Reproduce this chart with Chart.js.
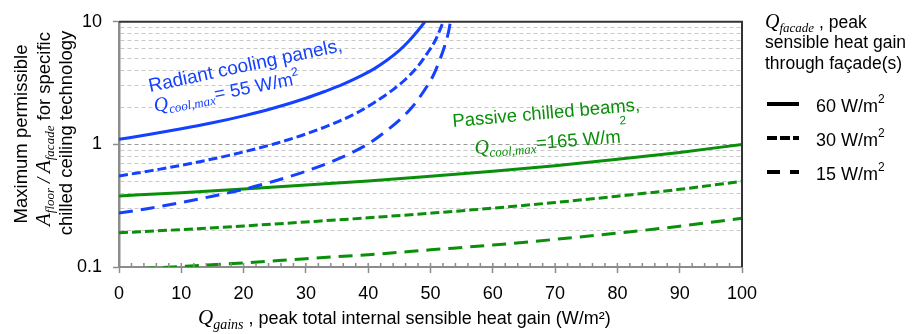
<!DOCTYPE html>
<html lang="en">
<head>
  <meta charset="UTF-8" />
  <title>Chilled ceiling area ratio</title>
  <script src="https://cdn.jsdelivr.net/npm/chart.js"></script>
  <style>
    body { margin: 0; background: #fff; }
    #wrap { width: 919px; height: 334px; }
  </style>
</head>
<body>
  <div id="wrap"><canvas id="chart" width="919" height="334"></canvas></div>

  <script>
    // values
    // passive chilled beams, Qcool,max = 165 W/m2
    const gains = [0, 10, 20, 30, 40, 50, 60, 70, 80, 90, 100];
    const beams60 = [0.38, 0.404, 0.433, 0.466, 0.504, 0.55, 0.604, 0.67, 0.755, 0.86, 1.0];
    const beams30 = [0.19, 0.202, 0.216, 0.233, 0.252, 0.275, 0.302, 0.336, 0.378, 0.43, 0.5];
    const beams15 = [0.095, 0.101, 0.108, 0.117, 0.126, 0.138, 0.151, 0.168, 0.189, 0.215, 0.25];

    // radiant cooling panels, Qcool,max = 55 W/m2 (curves run off the top at 10)
    const panelsX60 = [0, 5, 10, 15, 20, 25, 30, 33, 36, 39, 41, 43, 45, 46.5, 48, 49.1];
    const panels60 = [1.10, 1.21, 1.34, 1.50, 1.71, 1.99, 2.38, 2.70, 3.10, 3.65, 4.15, 4.85, 5.85, 6.95, 8.5, 10];
    const panelsX30 = [0, 5, 10, 15, 20, 25, 30, 35, 38, 41, 44, 46, 48, 49.5, 50.8, 52.05];
    const panels30 = [0.553, 0.608, 0.676, 0.76, 0.869, 1.013, 1.216, 1.52, 1.79, 2.2, 2.8, 3.4, 4.35, 5.55, 7.1, 10];
    const panelsX15 = [0, 5, 10, 15, 20, 25, 30, 35, 40, 43, 45, 47, 49, 50.5, 51.5, 52.3, 52.9, 53.2];
    const panels15 = [0.275, 0.302, 0.336, 0.378, 0.43, 0.503, 0.604, 0.755, 1.01, 1.3, 1.58, 2.0, 2.75, 3.7, 4.9, 6.4, 8.3, 10];

    const facadeLabels = ['60 W/m', '30 W/m', '15 W/m'];
    const yTickValues = [0.1, 0.2, 0.3, 0.4, 0.5, 0.6, 0.7, 0.8, 0.9, 1, 2, 3, 4, 5, 6, 7, 8, 9, 10];
    const yLabelValues = [0.1, 1, 10];

    const BLUE = '#1440ff';
    const GREEN = '#0a8f0a';
    const AXIS = '#8c8c8c';
    const SANS = '"Liberation Sans", Arial, sans-serif';
    const SERIF = '"Liberation Serif", "Times New Roman", serif';
    const dashes = [[], [9, 4], [14, 8]];

    function pts(xs, ys) {
      return xs.map((x, i) => ({ x: x, y: ys[i] }));
    }

    function curve(data, color, dash) {
      return {
        data: data,
        borderColor: color,
        borderWidth: 3,
        borderDash: dash,
        pointRadius: 0,
        fill: false,
        cubicInterpolationMode: 'monotone'
      };
    }

    // draws a run of differently styled pieces along one (possibly rotated) baseline
    function drawRuns(ctx, parts, x, y, angle, color, align) {
      ctx.save();
      ctx.translate(x, y);
      ctx.rotate(angle * Math.PI / 180);
      ctx.textAlign = 'left';
      ctx.textBaseline = 'alphabetic';
      let w = 0;
      parts.forEach(p => { ctx.font = p.f; w += ctx.measureText(p.t).width; });
      let cx = align === 'center' ? -w / 2 : 0;
      parts.forEach(p => {
        ctx.font = p.f;
        ctx.fillStyle = color;
        ctx.fillText(p.t, cx, p.dy || 0);
        cx += ctx.measureText(p.t).width;
      });
      ctx.restore();
    }

    const sans = s => s + 'px ' + SANS;
    const ital = s => 'italic ' + s + 'px ' + SERIF;

    const decorations = {
      id: 'decorations',
      afterDraw(chart) {
        const ctx = chart.ctx;
        const a = chart.chartArea;
        const xs = chart.scales.x;

        ctx.save();
        // small ticks pointing up into the plot
        ctx.strokeStyle = AXIS;
        ctx.lineWidth = 1.5;
        xs.ticks.forEach(t => {
          const px = xs.getPixelForValue(t.value);
          ctx.beginPath();
          ctx.moveTo(px, a.bottom);
          ctx.lineTo(px, a.bottom - 4);
          ctx.stroke();
        });
        // top and right frame
        ctx.strokeStyle = '#333';
        ctx.lineWidth = 2;
        ctx.beginPath();
        ctx.moveTo(a.left, a.top);
        ctx.lineTo(a.right, a.top);
        ctx.lineTo(a.right, a.bottom);
        ctx.stroke();
        ctx.restore();

        // annotations on the curves
        drawRuns(ctx, [{ t: 'Radiant cooling panels,', f: sans(19) }], 150, 92, -12, BLUE);
        drawRuns(ctx, [
          { t: 'Q', f: ital(20) },
          { t: 'cool,max', f: ital(13), dy: 4 },
          { t: '= 55 W/m', f: sans(18.5) },
          { t: '2', f: sans(12), dy: -9 }
        ], 155, 112, -11, BLUE);

        drawRuns(ctx, [{ t: 'Passive chilled beams,', f: sans(18.5) }], 453, 127, -5, GREEN);
        drawRuns(ctx, [
          { t: 'Q', f: ital(20) },
          { t: 'cool,max', f: ital(13), dy: 4 },
          { t: '=165 W/m', f: sans(18.5) },
          { t: '2', f: sans(12), dy: -18 }
        ], 475, 154, -4.5, GREEN);

        // axis titles
        drawRuns(ctx, [
          { t: 'Q', f: ital(21) },
          { t: 'gains', f: ital(14), dy: 5 },
          { t: ' , peak total internal sensible heat gain (W/m\u00b2)', f: sans(18) }
        ], 198, 324, 0, '#000');

        drawRuns(ctx, [{ t: 'Maximum permissible', f: sans(18.5) }], 27, 134, -90, '#000', 'center');
        drawRuns(ctx, [
          { t: 'A', f: ital(21) },
          { t: 'floor', f: ital(13), dy: 4 },
          { t: ' / ', f: ital(19) },
          { t: 'A', f: ital(21) },
          { t: 'facade', f: ital(13), dy: 4 },
          { t: ' for specific', f: sans(18.5) }
        ], 50, 129, -90, '#000', 'center');
        drawRuns(ctx, [{ t: 'chilled ceiling technology', f: sans(18.5) }], 72, 133, -90, '#000', 'center');

        // legend for the facade gains
        drawRuns(ctx, [
          { t: 'Q', f: ital(20) },
          { t: 'facade', f: ital(13), dy: 4 },
          { t: ' , peak', f: sans(17.5) }
        ], 765, 28, 0, '#000');
        drawRuns(ctx, [{ t: 'sensible heat gain', f: sans(17.5) }], 765, 48, 0, '#000');
        drawRuns(ctx, [{ t: 'through fa\u00e7ade(s)', f: sans(17.5) }], 765, 69, 0, '#000');

        const rows = [104, 138, 172];
        facadeLabels.forEach((lab, i) => {
          ctx.save();
          ctx.strokeStyle = '#000';
          ctx.lineWidth = 4;
          ctx.setLineDash(i === 0 ? [] : (i === 1 ? [10, 3] : [13, 10]));
          ctx.beginPath();
          ctx.moveTo(767, rows[i]);
          ctx.lineTo(799, rows[i]);
          ctx.stroke();
          ctx.restore();
          drawRuns(ctx, [
            { t: lab, f: sans(18) },
            { t: '2', f: sans(12), dy: -9 }
          ], 816, rows[i] + 7.5, 0, '#000');
        });
      }
    };

    new Chart(document.getElementById('chart'), {
      type: 'line',
      data: {
        datasets: [
          curve(pts(panelsX60, panels60), BLUE, dashes[0]),
          curve(pts(panelsX30, panels30), BLUE, dashes[1]),
          curve(pts(panelsX15, panels15), BLUE, dashes[2]),
          curve(pts(gains, beams60), GREEN, dashes[0]),
          curve(pts(gains, beams30), GREEN, dashes[1]),
          curve(pts(gains, beams15), GREEN, dashes[2])
        ]
      },
      options: {
        responsive: false,
        animation: false,
        devicePixelRatio: 1,
        layout: { padding: { top: 13, right: 177, bottom: 0, left: 0 } },
        plugins: { legend: { display: false }, tooltip: { enabled: false } },
        scales: {
          x: {
            type: 'linear',
            min: 0,
            max: 100,
            afterFit: s => { s.height = 67; },
            ticks: {
              stepSize: 2,
              autoSkip: false,
              maxRotation: 0,
              padding: 10,
              color: '#000',
              font: { family: SANS, size: 18 },
              callback: v => (v % 10 === 0 ? String(v) : '')
            },
            grid: {
              drawOnChartArea: false,
              tickLength: 6,
              tickWidth: 1.5,
              tickColor: c => (c.tick && c.tick.value % 10 === 0 ? AXIS : 'transparent')
            },
            border: { color: AXIS, width: 2 }
          },
          y: {
            type: 'logarithmic',
            min: 0.1,
            max: 10,
            afterFit: s => { s.width = 119; },
            afterBuildTicks: s => { s.ticks = yTickValues.map(v => ({ value: v })); },
            ticks: {
              autoSkip: false,
              padding: 11,
              color: '#000',
              font: { family: SANS, size: 18 },
              callback: v => (yLabelValues.includes(v) ? String(v) : '')
            },
            grid: {
              tickLength: 6,
              tickWidth: 1.5,
              lineWidth: 1,
              color: c => {
                const v = c.tick ? c.tick.value : 0;
                if (v === 0.1 || v === 10) return 'transparent';
                return v === 1 ? '#9a9a9a' : '#c8c8c8';
              },
              tickColor: c => (c.tick && yLabelValues.includes(c.tick.value) ? AXIS : 'transparent')
            },
            border: { color: AXIS, width: 2.5, dash: [4, 3] }
          }
        }
      },
      plugins: [decorations]
    });
  </script>
</body>
</html>
